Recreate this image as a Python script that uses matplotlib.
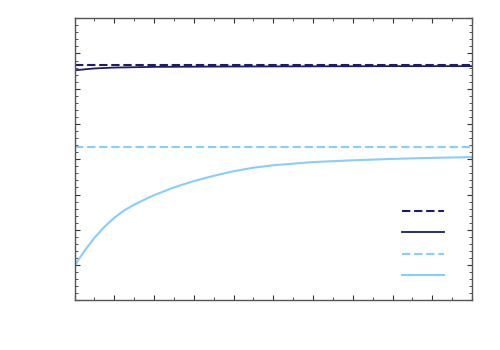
import matplotlib
matplotlib.use("Agg")
import matplotlib.pyplot as plt
from matplotlib.ticker import MultipleLocator
from matplotlib.lines import Line2D

# data
x_light = [0.0, 0.25, 0.5, 0.75, 1.0, 1.25, 1.5, 1.75, 2.0, 2.5, 3.0, 3.5,
           4.0, 4.5, 5.0, 6.0, 7.0, 8.0, 9.0, 10.0]
y_light = [0.98, 1.40, 1.77, 2.08, 2.34, 2.55, 2.71, 2.85, 2.98, 3.20, 3.38, 3.53,
           3.66, 3.76, 3.83, 3.92, 3.97, 4.01, 4.04, 4.06]
x_dark = [0.0, 0.25, 0.5, 1.0, 1.5, 2.0, 3.0, 4.0, 6.0, 8.0, 10.0]
y_dark = [6.52, 6.55, 6.575, 6.60, 6.61, 6.62, 6.625, 6.63, 6.635, 6.64, 6.64]
dark_ref = 6.67
light_ref = 4.36
x_range = [0.0, 10.0]

dark = "#1c1c6b"
light = "#87cefa"
dash = (0, (4, 1.8))

fig = plt.figure(figsize=(5, 3.5), dpi=100)
ax = fig.add_axes([0.149, 0.142, 0.795, 0.806])

ax.plot(x_range, [dark_ref, dark_ref], color=dark, lw=1.5, ls=dash)
ax.plot(x_dark, y_dark, color=dark, lw=1.3)
ax.plot(x_range, [light_ref, light_ref], color=light, lw=1.5, ls=dash)
ax.plot(x_light, y_light, color=light, lw=1.5)

ax.set_xlim(0, 10)
ax.set_ylim(0, 8)
ax.xaxis.set_major_locator(MultipleLocator(1))
ax.xaxis.set_minor_locator(MultipleLocator(0.5))
ax.yaxis.set_major_locator(MultipleLocator(1))
ax.yaxis.set_minor_locator(MultipleLocator(0.2))
ax.tick_params(which="both", direction="in", top=True, right=True,
               labelbottom=False, labelleft=False, color="#333333")
ax.tick_params(which="major", length=3.5, width=0.8)
ax.tick_params(which="minor", length=2, width=0.6)
for s in ax.spines.values():
    s.set_color("#555555")
    s.set_linewidth(1.0)

handles = [
    Line2D([], [], color=dark, lw=1.5, ls=dash),
    Line2D([], [], color=dark, lw=1.3),
    Line2D([], [], color=light, lw=1.5, ls=dash),
    Line2D([], [], color=light, lw=1.5),
]
ax.legend(handles, ["", "", "", ""], frameon=False, handlelength=3,
          loc="upper left", bbox_to_anchor=(0.793, 0.382), labelspacing=0.52,
          handletextpad=0.3)

fig.savefig("out.png", dpi=100)
